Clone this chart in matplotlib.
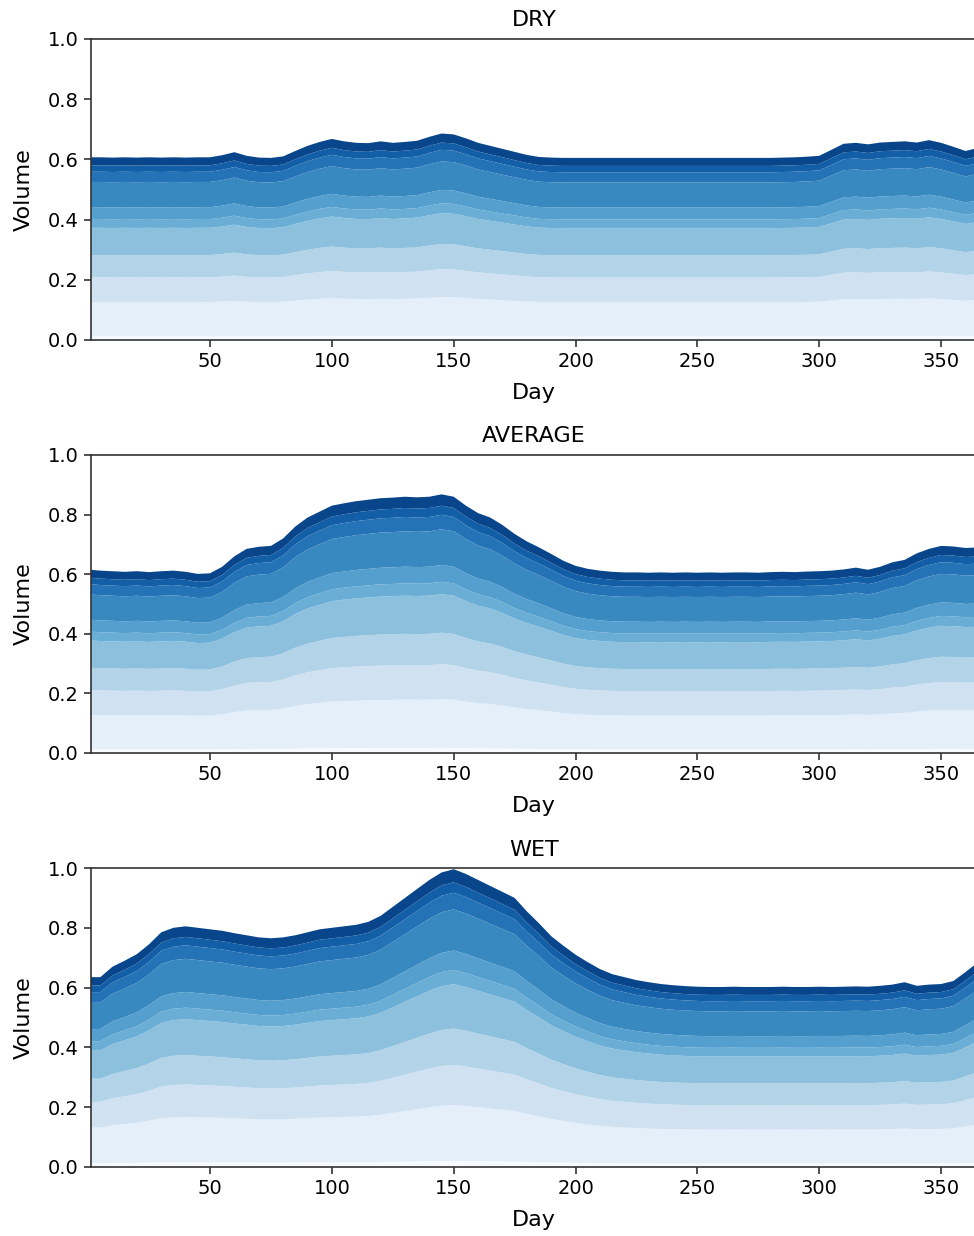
import numpy as np
import matplotlib
matplotlib.use("Agg")
import matplotlib.pyplot as plt

# Sample days (every 5 days across the year)
days = [1, 5, 10, 15, 20, 25, 30, 35, 40, 45, 50, 55, 60, 65, 70, 75, 80, 85, 90,
        95, 100, 105, 110, 115, 120, 125, 130, 135, 140, 145, 150, 155, 160, 165,
        170, 175, 180, 185, 190, 195, 200, 205, 210, 215, 220, 225, 230, 235, 240,
        245, 250, 255, 260, 265, 270, 275, 280, 285, 290, 295, 300, 305, 310, 315,
        320, 325, 330, 335, 340, 345, 350, 355, 360, 365]

# Total stored volume per scenario
dry_total = [0.607, 0.607, 0.606, 0.607, 0.606, 0.607, 0.606, 0.607, 0.606, 0.607,
             0.607, 0.614, 0.624, 0.612, 0.606, 0.605, 0.610, 0.628, 0.645, 0.658,
             0.668, 0.660, 0.655, 0.654, 0.660, 0.655, 0.658, 0.662, 0.675, 0.686,
             0.683, 0.670, 0.655, 0.645, 0.635, 0.625, 0.615, 0.608, 0.606, 0.605,
             0.605, 0.605, 0.605, 0.605, 0.605, 0.605, 0.605, 0.605, 0.605, 0.605,
             0.605, 0.605, 0.605, 0.605, 0.605, 0.605, 0.605, 0.606, 0.607, 0.609,
             0.612, 0.632, 0.652, 0.655, 0.650, 0.656, 0.658, 0.660, 0.656, 0.664,
             0.655, 0.642, 0.628, 0.638]

avg_total = [0.615, 0.612, 0.610, 0.608, 0.610, 0.607, 0.610, 0.612, 0.608, 0.601,
             0.603, 0.625, 0.660, 0.685, 0.692, 0.695, 0.720, 0.760, 0.790, 0.810,
             0.830, 0.838, 0.845, 0.850, 0.855, 0.857, 0.860, 0.858, 0.860, 0.868,
             0.860, 0.830, 0.805, 0.790, 0.765, 0.735, 0.710, 0.690, 0.668, 0.645,
             0.628, 0.618, 0.612, 0.608, 0.606, 0.606, 0.605, 0.606, 0.605, 0.606,
             0.605, 0.606, 0.605, 0.606, 0.606, 0.605, 0.607, 0.608, 0.607, 0.609,
             0.610, 0.612, 0.616, 0.622, 0.615, 0.625, 0.640, 0.648, 0.670, 0.685,
             0.695, 0.693, 0.688, 0.690]

wet_total = [0.635, 0.635, 0.670, 0.690, 0.712, 0.745, 0.785, 0.800, 0.805, 0.800,
             0.795, 0.790, 0.782, 0.775, 0.768, 0.765, 0.768, 0.775, 0.785, 0.795,
             0.800, 0.805, 0.810, 0.820, 0.840, 0.870, 0.900, 0.930, 0.960, 0.985,
             0.996, 0.980, 0.960, 0.940, 0.920, 0.900, 0.855, 0.815, 0.772, 0.740,
             0.710, 0.685, 0.662, 0.645, 0.635, 0.625, 0.618, 0.612, 0.608, 0.605,
             0.603, 0.602, 0.602, 0.603, 0.602, 0.602, 0.602, 0.603, 0.602, 0.602,
             0.603, 0.602, 0.603, 0.604, 0.603, 0.606, 0.610, 0.618, 0.606, 0.610,
             0.612, 0.622, 0.652, 0.684]

# Share of the total held in each band (bottom to top)
band_shares = [0.020, 0.188, 0.135, 0.122, 0.149, 0.048, 0.065, 0.138, 0.056, 0.035, 0.044]

titles = ["DRY", "AVERAGE", "WET"]
totals = [dry_total, avg_total, wet_total]
yticks = [0.0, 0.2, 0.4, 0.6, 0.8, 1.0]
xticks = [50, 100, 150, 200, 250, 300, 350]

# Band colours taken along the Blues colormap, light at the bottom
cmap_pos = [0.0, 0.09, 0.2, 0.31, 0.42, 0.5, 0.57, 0.66, 0.74, 0.82, 0.92]
colors = plt.cm.Blues(cmap_pos)

fig = plt.figure(figsize=(9.74, 12.36), dpi=100)
W, H = 974.0, 1236.0
left_px, right_px = 90.6, 977.7
panels_px = [(39, 340), (455, 753), (868, 1167)]

x = np.array(days)
for (top, bot), title, tot in zip(panels_px, titles, totals):
    ax = fig.add_axes([left_px / W, 1 - bot / H, (right_px - left_px) / W, (bot - top) / H])
    tot = np.array(tot)
    layers = [tot * s for s in band_shares]
    ax.stackplot(x, *layers, colors=colors, linewidth=0)
    ax.set_xlim(1, 365)
    ax.set_ylim(0, 1.0)
    ax.set_xticks(xticks)
    ax.set_yticks(yticks)
    ax.set_yticklabels([f"{v:.1f}" for v in yticks])
    ax.tick_params(labelsize=14, length=5, width=1.2, color="#333333")
    for sp in ax.spines.values():
        sp.set_linewidth(1.2)
        sp.set_color("#333333")
    ax.set_title(title, fontsize=16, pad=9)
    ax.set_xlabel("Day", fontsize=16, labelpad=9)
    ax.set_ylabel("Volume", fontsize=16, labelpad=10)

fig.savefig("out.png", dpi=100)
